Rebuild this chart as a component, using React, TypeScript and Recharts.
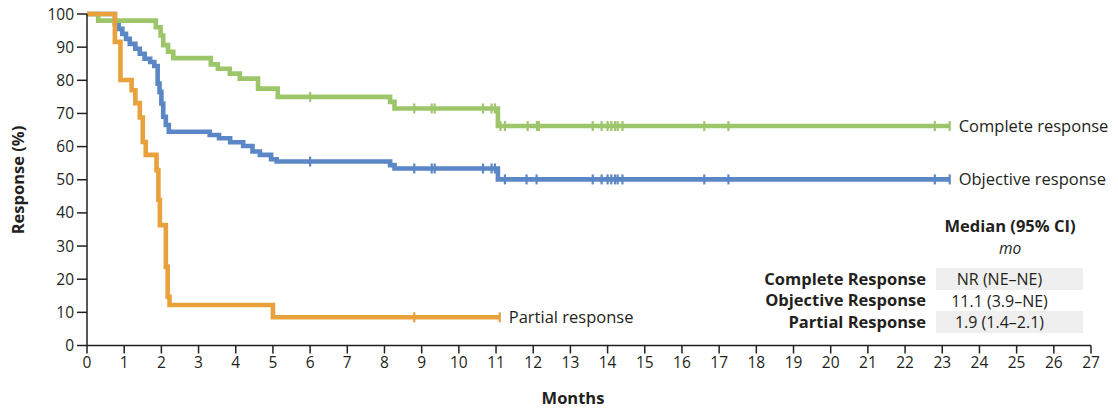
import React from "react";
import { LineChart, Line, XAxis, YAxis } from "recharts";

// axis ticks
const monthTicks = [0, 1, 2, 3, 4, 5, 6, 7, 8, 9, 10, 11, 12, 13, 14, 15, 16, 17, 18, 19, 20, 21, 22, 23, 24, 25, 26, 27];
const pctTicks = [0, 10, 20, 30, 40, 50, 60, 70, 80, 90, 100];

// Kaplan-Meier steps (months, %)
const completeTimes = [0, 0.3, 1.85, 1.98, 2.05, 2.18, 2.32, 3.33, 3.52, 3.84, 4.11, 4.6, 5.13, 8.15, 8.27, 11.05];
const completeValues = [100, 98, 96, 93.5, 90.6, 88.6, 86.7, 84.8, 83.5, 82, 80.5, 77.5, 75, 73.5, 71.5, 66.2];
const completeCensored = [6.0, 8.8, 9.27, 9.35, 10.65, 10.88, 10.97, 11.12, 11.24, 11.85, 12.1, 12.15, 13.6, 13.84, 14.0, 14.1, 14.2, 14.27, 14.4, 16.6, 17.25, 22.8, 23.2];

const objectiveTimes = [0, 0.75, 0.85, 0.95, 1.05, 1.15, 1.3, 1.42, 1.55, 1.7, 1.81, 1.9, 1.95, 2.0, 2.05, 2.12, 2.2, 3.3, 3.55, 3.85, 4.2, 4.45, 4.65, 4.95, 5.1, 8.15, 8.27, 11.05];
const objectiveValues = [100, 97, 95.5, 94, 92.5, 91, 89.5, 88, 86.5, 85.5, 84.3, 79, 76.5, 73, 69, 66.5, 64.5, 63.5, 62.5, 61.3, 60.2, 58.5, 57.5, 56.2, 55.5, 54.4, 53.4, 50.1];
const objectiveCensored = [6.0, 8.8, 9.27, 9.35, 10.65, 10.88, 10.97, 11.24, 11.82, 12.09, 13.6, 13.84, 14.0, 14.1, 14.2, 14.27, 14.4, 16.6, 17.25, 22.8, 23.2];

const partialTimes = [0, 0.75, 0.9, 1.2, 1.3, 1.42, 1.5, 1.58, 1.87, 1.92, 1.96, 2.12, 2.17, 2.22, 5.0];
const partialValues = [100, 91.6, 80.1, 77, 73.1, 68.8, 61.4, 57.5, 52.9, 43.9, 36.3, 23.8, 14.7, 12.2, 8.5];
const partialCensored = [8.8, 11.1];

const medianRows = ["Complete Response", "Objective Response", "Partial Response"];
const medianValues = ["NR (NE\u2013NE)", "11.1 (3.9\u2013NE)", "1.9 (1.4\u20132.1)"];

const GREEN = "#9dc66b";
const BLUE = "#5b87c6";
const ORANGE = "#e8a13b";
const INK = "#231f20";
const FONT = "'Open Sans', sans-serif";

type Pt = { t: number; v: number; c: boolean };

const buildCurve = (times: number[], values: number[], censored: number[]): Pt[] => {
  const steps = times.map((t, i) => ({ t, v: values[i], c: false }));
  const marks = censored.map((t) => {
    let v = values[0];
    times.forEach((s, i) => {
      if (s <= t) v = values[i];
    });
    return { t, v, c: true };
  });
  return [...steps, ...marks].sort((a, b) => a.t - b.t);
};

const complete = buildCurve(completeTimes, completeValues, completeCensored);
const objective = buildCurve(objectiveTimes, objectiveValues, objectiveCensored);
const partial = buildCurve(partialTimes, partialValues, partialCensored);

const censorDot = (color: string, name: string, last: number) => (props: any) => {
  const { cx, cy, payload, index } = props;
  if (!payload || !payload.c) return <g key={`d${index}`} />;
  return (
    <g key={`d${index}`}>
      <line x1={cx} x2={cx} y1={cy - 5} y2={cy + 5} stroke={color} strokeWidth={2.2} />
      {index === last && (
        <text x={cx + 9} y={cy + 6} fontSize={16.5} fill={INK} fontFamily={FONT}>
          {name}
        </text>
      )}
    </g>
  );
};

const tickStyle = { fontSize: 15.5, fill: INK, fontFamily: FONT };

const abs = (left: number, top: number): React.CSSProperties => ({
  position: "absolute",
  left,
  top,
  transform: "translate(-50%, -50%)",
  lineHeight: 1,
  whiteSpace: "nowrap",
});

export default function App() {
  return (
    <div style={{ position: "absolute", left: 0, top: 0, width: 1118, height: 411, background: "#fff", fontFamily: FONT, color: INK }}>
      <LineChart width={1118} height={411} margin={{ top: 14, right: 27, bottom: 35.5, left: 37 }}>
        <XAxis
          type="number"
          dataKey="t"
          domain={[0, 27]}
          ticks={monthTicks}
          interval={0}
          tickSize={8}
          tickMargin={3}
          height={30}
          stroke={INK}
          strokeWidth={1.5}
          tick={tickStyle}
        />
        <YAxis
          type="number"
          domain={[0, 100]}
          ticks={pctTicks}
          interval={0}
          tickSize={10}
          tickMargin={3}
          width={50}
          stroke={INK}
          strokeWidth={1.5}
          tick={tickStyle}
        />
        <Line
          data={objective}
          dataKey="v"
          type="stepAfter"
          stroke={BLUE}
          strokeWidth={4.6}
          dot={censorDot(BLUE, "Objective response", objective.length - 1)}
          activeDot={false}
          isAnimationActive={false}
        />
        <Line
          data={complete}
          dataKey="v"
          type="stepAfter"
          stroke={GREEN}
          strokeWidth={4.6}
          dot={censorDot(GREEN, "Complete response", complete.length - 1)}
          activeDot={false}
          isAnimationActive={false}
        />
        <Line
          data={partial}
          dataKey="v"
          type="stepAfter"
          stroke={ORANGE}
          strokeWidth={4.6}
          dot={censorDot(ORANGE, "Partial response", partial.length - 1)}
          activeDot={false}
          isAnimationActive={false}
        />
      </LineChart>

      <div style={{ ...abs(18, 180), transform: "translate(-50%, -50%) rotate(-90deg)", fontWeight: 700, fontSize: 16.5 }}>
        Response (%)
      </div>
      <div style={{ ...abs(573, 398), fontWeight: 700, fontSize: 16.5 }}>Months</div>

      <div style={{ ...abs(1010, 226), fontWeight: 700, fontSize: 16.5 }}>Median (95% CI)</div>
      <div style={{ ...abs(1010, 249), fontStyle: "italic", fontSize: 15.5 }}>mo</div>
      {medianRows.map((row, i) => (
        <div key={row} style={{ position: "absolute", left: 690, top: 268 + i * 21.7, height: 21.7, width: 393, display: "flex", alignItems: "center", lineHeight: 1 }}>
          <div style={{ width: 236, textAlign: "right", fontWeight: 700, fontSize: 16.5, whiteSpace: "nowrap" }}>{row}</div>
          <div style={{ marginLeft: 10, width: 147, height: "100%", background: i === 1 ? "#fff" : "#efefef", display: "flex", alignItems: "center", justifyContent: "center", fontSize: 16, paddingRight: 20, boxSizing: "border-box", whiteSpace: "nowrap" }}>
            {medianValues[i]}
          </div>
        </div>
      ))}
    </div>
  );
}
